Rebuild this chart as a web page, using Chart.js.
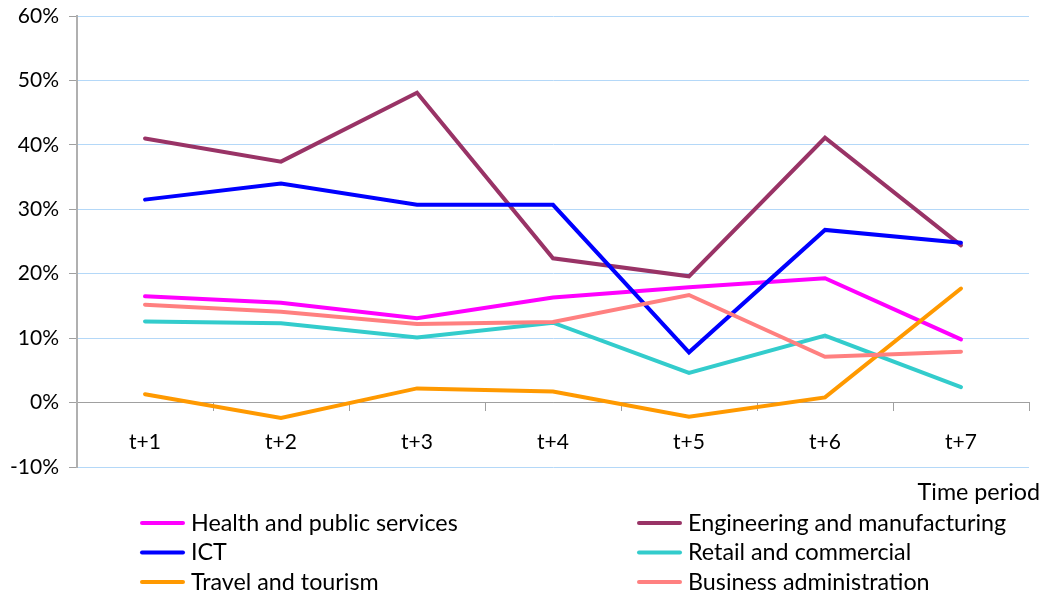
<!DOCTYPE html>
<html>
<head>
<meta charset="utf-8">
<script src="https://cdn.jsdelivr.net/npm/chart.js@4/dist/chart.umd.min.js"></script>
<style>
  html, body { margin: 0; padding: 0; background: #ffffff; }
  #wrap { width: 1046px; height: 598px; position: relative; }
</style>
</head>
<body>
<div id="wrap"><canvas id="c" width="1046" height="598"></canvas></div>
<script>
// Periods on the horizontal axis
const periods = ['t+1', 't+2', 't+3', 't+4', 't+5', 't+6', 't+7'];

// Percentage values per sector (in %)
const healthPublic   = [16.5, 15.5, 13.1, 16.3, 17.9, 19.3, 9.8];
const engineering    = [41.0, 37.4, 48.1, 22.4, 19.6, 41.1, 24.4];
const ict            = [31.5, 34.0, 30.7, 30.7, 7.8, 26.8, 24.8];
const retail         = [12.6, 12.3, 10.1, 12.4, 4.6, 10.4, 2.4];
const travel         = [1.3, -2.4, 2.2, 1.7, -2.2, 0.8, 17.7];
const businessAdmin  = [15.2, 14.1, 12.2, 12.5, 16.7, 7.1, 7.9];

// Value axis ticks (in %)
const yTicks = [-10, 0, 10, 20, 30, 40, 50, 60];

const axisTitle = 'Time period';
const FONT = 'Lato, "Open Sans", sans-serif';

const series = [
  { label: 'Health and public services',   data: healthPublic,  color: '#FF00FF' },
  { label: 'Engineering and manufacturing', data: engineering,   color: '#993366' },
  { label: 'ICT',                           data: ict,           color: '#0000FF' },
  { label: 'Retail and commercial',         data: retail,        color: '#33CCCC' },
  { label: 'Travel and tourism',            data: travel,        color: '#FF9900' },
  { label: 'Business administration',       data: businessAdmin, color: '#FF8080' }
];

// Two-column legend beneath the plot plus the axis caption
const legendPlugin = {
  id: 'twoColumnLegend',
  afterDraw(chart) {
    const ctx = chart.ctx;
    ctx.save();
    ctx.font = '23.3px ' + FONT;
    ctx.fillStyle = '#000000';
    ctx.textBaseline = 'middle';
    ctx.textAlign = 'right';
    ctx.fillText(axisTitle, 1040, 492);
    ctx.textAlign = 'left';
    chart.data.datasets.forEach((ds, i) => {
      const col = i % 2;
      const row = Math.floor(i / 2);
      const x0 = col ? 637 : 140;
      const y = 523 + row * 29.5;
      ctx.strokeStyle = ds.borderColor;
      ctx.lineWidth = 4;
      ctx.lineCap = 'round';
      ctx.beginPath();
      ctx.moveTo(x0 + 2, y);
      ctx.lineTo(x0 + 43, y);
      ctx.stroke();
      ctx.fillText(ds.label, x0 + 51, y);
    });
    ctx.restore();
  }
};

new Chart(document.getElementById('c'), {
  type: 'line',
  data: {
    labels: periods,
    datasets: series.map((s, i) => ({
      label: s.label,
      data: s.data,
      borderColor: s.color,
      backgroundColor: s.color,
      borderWidth: 4,
      pointRadius: 0,
      tension: 0,
      borderCapStyle: 'round',
      fill: false,
      order: series.length - i
    }))
  },
  options: {
    responsive: false,
    animation: false,
    devicePixelRatio: 1,
    layout: { padding: { left: 0, right: 17, top: 16, bottom: 131 } },
    plugins: {
      legend: { display: false },
      tooltip: { enabled: false }
    },
    scales: {
      x: {
        position: { y: 0 },
        offset: true,
        grid: {
          offset: true,
          drawOnChartArea: false,
          tickLength: 8,
          tickColor: '#A0A0A0'
        },
        border: { color: '#A0A0A0', width: 1 },
        ticks: {
          color: '#000000',
          padding: 19,
          font: { family: FONT, size: 21 }
        }
      },
      y: {
        min: yTicks[0],
        max: yTicks[yTicks.length - 1],
        afterFit(scale) {
          scale.width = 77;
          scale.paddingTop = 0;
          scale.paddingBottom = 0;
        },
        afterBuildTicks(scale) { scale.ticks = yTicks.map(v => ({ value: v })); },
        grid: {
          color: ctx => (ctx.tick && ctx.tick.value === 0) ? '#A0A0A0' : '#B4D8F8',
          tickColor: '#A0A0A0',
          tickLength: 8,
          lineWidth: 1
        },
        border: { color: '#B0B0B0', width: 2 },
        ticks: {
          color: '#000000',
          padding: 10,
          font: { family: FONT, size: 21 },
          callback: v => v + '%'
        }
      }
    }
  },
  plugins: [legendPlugin]
});
</script>
</body>
</html>
